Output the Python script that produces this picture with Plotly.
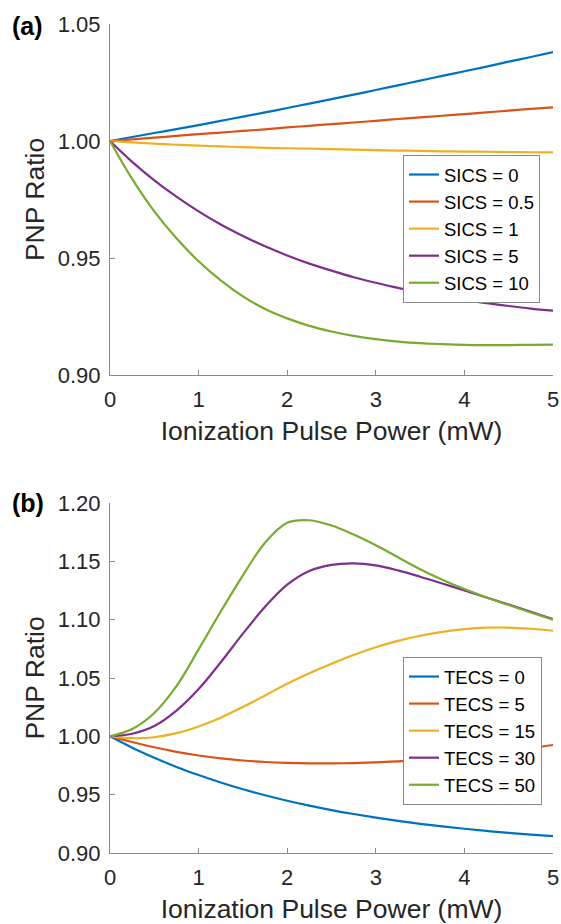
import plotly.graph_objects as go

# ---------------- data ----------------
x_pts = [0, 0.25, 0.5, 0.75, 1, 1.25, 1.5, 1.75, 2, 2.25, 2.5, 2.75,
         3, 3.25, 3.5, 3.75, 4, 4.25, 4.5, 4.75, 5]

sics_labels = ["SICS = 0", "SICS = 0.5", "SICS = 1", "SICS = 5", "SICS = 10"]
sics_0 = [1.0, 1.0017, 1.0034, 1.0051, 1.0068, 1.0086, 1.0104, 1.0122, 1.0141, 1.0160, 1.0179,
          1.0198, 1.0218, 1.0238, 1.0258, 1.0278, 1.0298, 1.0318, 1.0339, 1.0359, 1.0380]
sics_05 = [1.0, 1.0007, 1.0014, 1.0022, 1.0029, 1.0036, 1.0043, 1.0050, 1.0058, 1.0065, 1.0072,
           1.0079, 1.0086, 1.0094, 1.0101, 1.0108, 1.0115, 1.0122, 1.0130, 1.0137, 1.0144]
sics_1 = [1.0, 0.9994, 0.9989, 0.9984, 0.9980, 0.9977, 0.9974, 0.9971, 0.9969, 0.9967, 0.9965,
          0.9963, 0.9961, 0.9959, 0.9958, 0.9956, 0.9955, 0.9954, 0.9953, 0.9952, 0.9951]
sics_5 = [1.0, 0.9911, 0.9832, 0.9762, 0.9699, 0.9643, 0.9594, 0.9550, 0.9511, 0.9476, 0.9446,
          0.9418, 0.9394, 0.9372, 0.9353, 0.9336, 0.9321, 0.9307, 0.9295, 0.9284, 0.9275]
sics_10 = [1.0, 0.9838, 0.9699, 0.9584, 0.9486, 0.9404, 0.9336, 0.9282, 0.9242, 0.9210, 0.9186,
           0.9167, 0.9153, 0.9143, 0.9136, 0.9132, 0.9129, 0.9128, 0.9128, 0.9129, 0.9130]

tecs_labels = ["TECS = 0", "TECS = 5", "TECS = 15", "TECS = 30", "TECS = 50"]
tecs_0 = [1.0, 0.9903, 0.9817, 0.9738, 0.9668, 0.9604, 0.9546, 0.9495, 0.9448, 0.9406, 0.9368,
          0.9334, 0.9303, 0.9275, 0.9250, 0.9228, 0.9208, 0.9189, 0.9173, 0.9158, 0.9145]
tecs_5 = [1.0, 0.9951, 0.9906, 0.9867, 0.9836, 0.9811, 0.9793, 0.9780, 0.9772, 0.9768, 0.9768,
          0.9771, 0.9777, 0.9786, 0.9798, 0.9813, 0.9831, 0.9852, 0.9875, 0.9900, 0.9926]
tecs_15 = [1.0, 0.9984, 0.9992, 1.0027, 1.0085, 1.0160, 1.0252, 1.0350, 1.0450, 1.0540, 1.0622,
           1.0697, 1.0763, 1.0818, 1.0862, 1.0896, 1.0919, 1.0931, 1.0932, 1.0922, 1.0905]
tecs_30 = [1.0, 1.0022, 1.0088, 1.0220, 1.0405, 1.0635, 1.0880, 1.1110, 1.1300, 1.1418, 1.1470,
           1.1483, 1.1465, 1.1422, 1.1368, 1.1310, 1.1250, 1.1190, 1.1130, 1.1068, 1.1005]
tecs_50 = [1.0, 1.0062, 1.0200, 1.0430, 1.0745, 1.1070, 1.1380, 1.1660, 1.1830, 1.1852, 1.1807,
           1.1730, 1.1638, 1.1535, 1.1432, 1.1342, 1.1262, 1.1190, 1.1125, 1.1062, 1.1000]

colors = ["#0072BD", "#D95319", "#EDB120", "#7E2F8E", "#77AC30"]

# ---------------- figure ----------------
W, H = 561, 924
ML, MR, MT, MB = 110, 8, 24, 71
PW, PH = W - ML - MR, H - MT - MB


def py2paper(py):
    return (H - MB - py) / PH


def px2paper(px):
    return (px - ML) / PW


fig = go.Figure()
for lab, ys, c in zip(sics_labels, [sics_0, sics_05, sics_1, sics_5, sics_10], colors):
    fig.add_trace(go.Scatter(x=x_pts, y=ys, name=lab, mode="lines",
                             line=dict(color=c, width=2.2, shape="spline", smoothing=1),
                             xaxis="x", yaxis="y", legend="legend"))
for lab, ys, c in zip(tecs_labels, [tecs_0, tecs_5, tecs_15, tecs_30, tecs_50], colors):
    fig.add_trace(go.Scatter(x=x_pts, y=ys, name=lab, mode="lines",
                             line=dict(color=c, width=2.2, shape="spline", smoothing=1),
                             xaxis="x2", yaxis="y2", legend="legend2"))

FONT = "Liberation Sans, Arial, sans-serif"
TXT = "#262626"
AX = "#8a8a8a"

xax = dict(range=[0, 5], tickvals=[0, 1, 2, 3, 4, 5], showline=True, linecolor=AX, linewidth=1,
           ticks="inside", ticklen=5, tickcolor=AX, showgrid=False, zeroline=False,
           ticklabelstandoff=5, automargin=False,
           tickfont=dict(family=FONT, size=22, color=TXT),
           title=dict(text="Ionization Pulse Power (mW)", font=dict(family=FONT, size=26.5, color=TXT),
                      standoff=10))
yax = dict(showline=True, linecolor=AX, linewidth=1, ticks="inside", ticklen=5, tickcolor=AX,
           showgrid=False, zeroline=False, tickformat=".2f", ticklabelstandoff=4, automargin=False,
           tickfont=dict(family=FONT, size=22, color=TXT),
           title=dict(text="PNP Ratio", font=dict(family=FONT, size=26.5, color=TXT), standoff=5))

top_dom = [py2paper(375), 1.0]
bot_dom = [0.0, py2paper(503)]

leg = dict(font=dict(family=FONT, size=18.5, color="black"), bgcolor="white",
           bordercolor=AX, borderwidth=1, xanchor="left", yanchor="top")

fig.update_layout(
    width=W, height=H,
    margin=dict(l=ML, r=MR, t=MT, b=MB, autoexpand=False),
    paper_bgcolor="white", plot_bgcolor="white",
    xaxis=dict(xax, domain=[0, 1], anchor="y"),
    yaxis=dict(yax, domain=top_dom, anchor="x", range=[0.90, 1.05],
               tickvals=[0.90, 0.95, 1.00, 1.05]),
    xaxis2=dict(xax, domain=[0, 1], anchor="y2"),
    yaxis2=dict(yax, domain=bot_dom, anchor="x2", range=[0.90, 1.20],
                tickvals=[0.90, 0.95, 1.00, 1.05, 1.10, 1.15, 1.20]),
    legend=dict(leg, x=px2paper(403), y=py2paper(155)),
    legend2=dict(leg, x=px2paper(403), y=py2paper(657)),
    showlegend=True,
    annotations=[
        dict(text="<b>(a)</b>", xref="paper", yref="paper", x=px2paper(10), y=py2paper(26),
             xanchor="left", yanchor="middle", showarrow=False,
             font=dict(family=FONT, size=25, color="black")),
        dict(text="<b>(b)</b>", xref="paper", yref="paper", x=px2paper(10), y=py2paper(503),
             xanchor="left", yanchor="middle", showarrow=False,
             font=dict(family=FONT, size=25, color="black")),
    ],
)

fig.write_html("out.html")
